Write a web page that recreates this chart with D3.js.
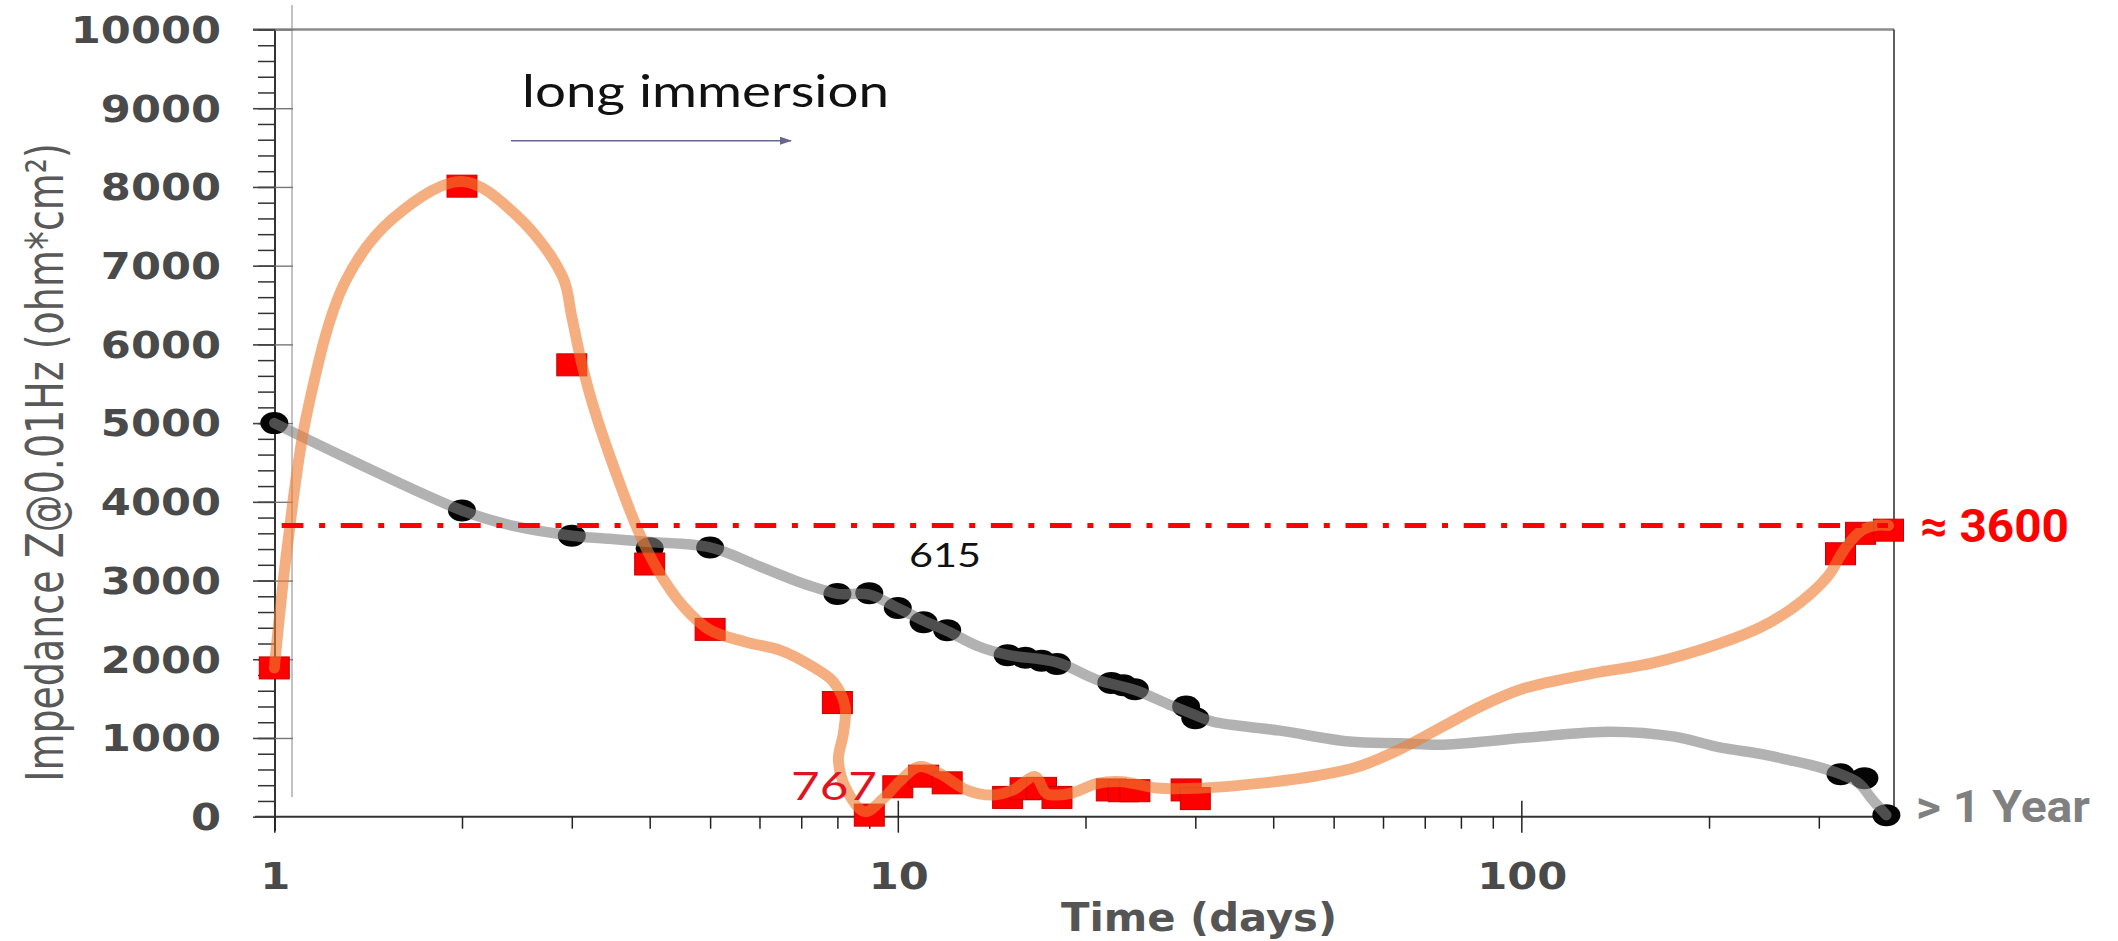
<!DOCTYPE html>
<html><head><meta charset="utf-8">
<script src="https://cdn.jsdelivr.net/npm/d3@7"></script>
<style>html,body{margin:0;padding:0;background:#fff;} svg{display:block;}</style>
</head><body>
<svg id="c" width="2118" height="941"></svg>
<script>
// ---- data ----
const blackDays = [1, 2, 3, 4, 5, 8, 9, 10, 11, 12, 15, 16, 17, 18, 22, 23, 24, 29, 30, 325, 355, 385];
const blackZ    = [5000, 3890, 3570, 3410, 3420, 2830, 2840, 2650, 2470, 2370, 2050, 2020, 1980, 1940, 1700, 1670, 1620, 1400, 1250, 540, 490, 20];
const redDays   = [1, 2, 3, 4, 5, 8, 9, 10, 11, 12, 15, 16, 17, 18, 22, 23, 24, 29, 30, 325, 350, 388];
const redZ      = [1890, 8010, 5740, 3210, 2380, 1450, 20, 380, 515, 430, 245, 355, 360, 245, 340, 330, 330, 340, 230, 3340, 3600, 3640];

// smooth trend lines as drawn on the picture
const grayTrendDays = [1, 2, 2.43, 3, 3.45, 4, 5, 6, 7, 7.6, 8, 9, 10, 11, 12, 13.5, 15, 18, 20.9, 24, 27.3, 29.5, 32, 41, 53, 64, 75, 106, 139, 176, 208, 241, 269, 300, 325, 348, 366, 385];
const grayTrendZ    = [5000, 3890, 3690, 3570, 3530, 3490, 3420, 3180, 2970, 2880, 2830, 2820, 2650, 2490, 2360, 2160, 2055, 1960, 1737, 1610, 1420, 1314, 1207, 1093, 954, 933, 915, 1017, 1080, 1017, 880, 800, 720, 630, 540, 424, 212, 20];
const orangeTrendDays = [1, 1.05, 1.13, 1.30, 1.55, 2, 2.46, 2.9, 3.0, 3.12, 3.3, 3.83, 4.12, 4.53, 5, 5.7, 6.5, 7.3, 7.88, 8.23, 8.18, 8.03, 8.28, 8.85, 9.49, 10.06, 10.8, 11.65, 12.9, 14.2, 15.3, 16.6, 17.3, 18, 19, 20.9, 22.9, 26, 30, 38.7, 47, 55, 64, 75, 86, 100, 130, 162, 208, 241, 269, 290, 312, 324, 335, 352, 371, 388];
const orangeTrendZ    = [1890, 3450, 5150, 6800, 7600, 8070, 7620, 6860, 6350, 5720, 5040, 3640, 3135, 2670, 2370, 2220, 2110, 1906, 1715, 1398, 1060, 720, 339, 64, 234, 445, 635, 551, 339, 275, 339, 508, 297, 275, 300, 424, 445, 365, 360, 430, 520, 640, 860, 1150, 1400, 1620, 1820, 1950, 2200, 2400, 2620, 2820, 3080, 3300, 3470, 3640, 3700, 3700];

const yMajorTicks = [0, 1000, 2000, 3000, 4000, 5000, 6000, 7000, 8000, 9000, 10000];
const yMinorTicks = d3.range(0, 10001, 200);
const xMajorTicks = [1, 10, 100];
const xMinorTicks = [2, 3, 4, 5, 6, 7, 8, 9, 20, 30, 40, 50, 60, 70, 80, 90, 200, 300];
const thresholdZ = 3700;

// ---- scales ----
const svg = d3.select('#c');
const x = d3.scaleLog().domain([1, 396]).range([274.3, 1894]);
const y = d3.scaleLinear().domain([0, 10000]).range([816.7, 29.5]);
const X0 = x.range()[0], X1 = x.range()[1], Y0 = y.range()[0], Y1 = y.range()[1];

// ---- frame ----
svg.append('line').attr('x1', 292).attr('x2', 292).attr('y1', 5).attr('y2', 797)
  .attr('stroke', '#9a9a9a').attr('stroke-width', 1.2);
svg.append('line').attr('x1', 253).attr('x2', X1).attr('y1', Y1).attr('y2', Y1)
  .attr('stroke', '#8a8a8a').attr('stroke-width', 2.5);
svg.append('line').attr('x1', X1).attr('x2', X1).attr('y1', Y1).attr('y2', Y0)
  .attr('stroke', '#2a2a2a').attr('stroke-width', 1.5);
svg.append('line').attr('x1', 255).attr('x2', X1).attr('y1', Y0).attr('y2', Y0)
  .attr('stroke', '#333').attr('stroke-width', 2);
svg.append('line').attr('x1', X0 + 0.7).attr('x2', X0 + 0.7).attr('y1', Y1).attr('y2', 831)
  .attr('stroke', '#333').attr('stroke-width', 2);

// y ticks
const noDomain = g => { g.select('.domain').remove(); g.selectAll('text').remove(); };
svg.append('g').attr('transform', `translate(${X0 + 0.7},0)`)
  .call(d3.axisLeft(y).tickValues(yMinorTicks).tickSize(17)).call(noDomain)
  .selectAll('line').attr('stroke', '#333').attr('stroke-width', 1.5);
svg.append('g').attr('transform', `translate(${X0 + 0.7},0)`)
  .call(d3.axisLeft(y).tickValues(yMajorTicks).tickSize(22)).call(noDomain)
  .selectAll('line').attr('stroke', '#444').attr('stroke-width', 1.6);
svg.append('g').attr('transform', `translate(${X0 + 0.7},0)`)
  .call(d3.axisRight(y).tickValues(yMajorTicks.slice(1)).tickSize(18)).call(noDomain)
  .selectAll('line').attr('stroke', '#777').attr('stroke-width', 1.4);

// x ticks
svg.append('g').attr('transform', `translate(0,${Y0})`)
  .call(d3.axisBottom(x).tickValues(xMinorTicks).tickSize(12)).call(noDomain)
  .selectAll('line').attr('stroke', '#222').attr('stroke-width', 1.5);
svg.append('g').attr('transform', `translate(0,${Y0})`)
  .call(d3.axisBottom(x).tickValues(xMajorTicks).tickSize(16)).call(noDomain)
  .selectAll('line').attr('stroke', '#222').attr('stroke-width', 1.5);
svg.append('g').attr('transform', `translate(0,${Y0})`)
  .call(d3.axisTop(x).tickValues(xMajorTicks.slice(1)).tickSize(16)).call(noDomain)
  .selectAll('line').attr('stroke', '#222').attr('stroke-width', 1.5);

// tick labels (bold, horizontally widened like the original)
const tickFont = {family: "'DejaVu Sans', Verdana, sans-serif", size: 36.6, fill: '#4a4a4a', sx: 1.18};
yMajorTicks.forEach(v => {
  svg.append('text').attr('transform', `translate(221,${y(v) + 13.3}) scale(${tickFont.sx},1)`)
    .attr('text-anchor', 'end').attr('font-family', tickFont.family).attr('font-weight', 'bold')
    .attr('font-size', tickFont.size).attr('fill', tickFont.fill).text(v);
});
xMajorTicks.forEach(v => {
  svg.append('text').attr('transform', `translate(${x(v) + 1},889) scale(${tickFont.sx},1)`)
    .attr('text-anchor', 'middle').attr('font-family', tickFont.family).attr('font-weight', 'bold')
    .attr('font-size', tickFont.size).attr('fill', tickFont.fill).text(v);
});

// axis titles
svg.append('text').attr('x', 1199).attr('y', 931).attr('text-anchor', 'middle')
  .attr('font-family', "'DejaVu Sans', sans-serif").attr('font-weight', 'bold').attr('font-size', 39)
  .attr('fill', '#555').attr('textLength', 276).attr('lengthAdjust', 'spacingAndGlyphs').text('Time (days)');
// rotated title: natural length ~641px, glyphs widened (screen-horizontal) like the original
svg.append('text').attr('transform', 'translate(63,462.5) rotate(-90) scale(1,1.34)').attr('text-anchor', 'middle')
  .attr('font-family', "'DejaVu Sans', sans-serif").attr('font-size', 38)
  .attr('fill', '#595959')
  .text('Impedance Z@0.01Hz (ohm*cm²)');

// ---- markers ----
const blackData = blackDays.map((d, i) => ({d, v: blackZ[i]}));
const redData = redDays.map((d, i) => ({d, v: redZ[i]}));
svg.append('g').selectAll('ellipse').data(blackData).join('ellipse')
  .attr('cx', p => x(p.d)).attr('cy', p => y(p.v)).attr('rx', 14).attr('ry', 11).attr('fill', '#050505');
svg.append('g').selectAll('rect').data(redData).join('rect')
  .attr('x', p => x(p.d) - 15).attr('y', p => y(p.v) - 11).attr('width', 30).attr('height', 22)
  .attr('fill', '#ff0000').attr('stroke', '#c80000').attr('stroke-width', 1);

// ---- trend curves (semi-transparent, over markers) ----
const line = d3.line().x(p => x(p.d)).y(p => y(p.v)).curve(d3.curveCatmullRom.alpha(0.5));
const grayTrend = grayTrendDays.map((d, i) => ({d, v: grayTrendZ[i]}));
const orangeTrend = orangeTrendDays.map((d, i) => ({d, v: orangeTrendZ[i]}));
svg.append('path').attr('d', line(grayTrend)).attr('fill', 'none').attr('stroke', '#7f7f7f')
  .attr('stroke-opacity', 0.6).attr('stroke-width', 10.5).attr('stroke-linecap', 'round').attr('stroke-linejoin', 'round');
svg.append('path').attr('d', line(orangeTrend)).attr('fill', 'none').attr('stroke', '#ed7d31')
  .attr('stroke-opacity', 0.62).attr('stroke-width', 11).attr('stroke-linecap', 'round').attr('stroke-linejoin', 'round');

// ---- threshold line ----
svg.append('line').attr('x1', 281.7).attr('x2', 1888).attr('y1', y(thresholdZ)).attr('y2', y(thresholdZ))
  .attr('stroke', '#ff0000').attr('stroke-width', 5).attr('stroke-dasharray', '21.7 15.7 6 15.7');

// ---- annotations ----
const defs = svg.append('defs');
defs.append('marker').attr('id', 'ah').attr('viewBox', '0 0 12 8').attr('refX', 11).attr('refY', 4)
  .attr('markerWidth', 12).attr('markerHeight', 8).attr('markerUnits', 'userSpaceOnUse').attr('orient', 'auto')
  .append('path').attr('d', 'M0,0 L12,4 L0,8 Z').attr('fill', '#66668e');
svg.append('line').attr('x1', 511).attr('x2', 791).attr('y1', 140.7).attr('y2', 140.7)
  .attr('stroke', '#66668e').attr('stroke-width', 1.5).attr('marker-end', 'url(#ah)');
svg.append('text').attr('x', 522).attr('y', 106.7).attr('font-family', "Lato, 'Open Sans', sans-serif")
  .attr('font-size', 45).attr('fill', '#111').attr('textLength', 367).attr('lengthAdjust', 'spacingAndGlyphs')
  .text('long immersion');
svg.append('text').attr('x', 909).attr('y', 566.7).attr('font-family', "Lato, 'Open Sans', sans-serif")
  .attr('font-size', 33.5).attr('fill', '#111').attr('textLength', 72).attr('lengthAdjust', 'spacingAndGlyphs')
  .text('615');
svg.append('text').attr('x', 791).attr('y', 800).attr('font-family', "Lato, 'Open Sans', sans-serif")
  .attr('font-size', 38).attr('fill', '#e0141e').attr('textLength', 86).attr('lengthAdjust', 'spacingAndGlyphs')
  .text('767');
svg.append('text').attr('x', 1920).attr('y', 541.7).attr('font-family', 'Roboto, sans-serif').attr('font-weight', 'bold')
  .attr('font-size', 46).attr('fill', '#ff0000').attr('textLength', 149).attr('lengthAdjust', 'spacingAndGlyphs')
  .text('≈ 3600');
svg.append('text').attr('x', 1916).attr('y', 821.7).attr('font-family', 'Roboto, sans-serif').attr('font-weight', 'bold')
  .attr('font-size', 45).attr('fill', '#808080').attr('textLength', 174).attr('lengthAdjust', 'spacingAndGlyphs')
  .text('> 1 Year');
</script>
</body></html>
